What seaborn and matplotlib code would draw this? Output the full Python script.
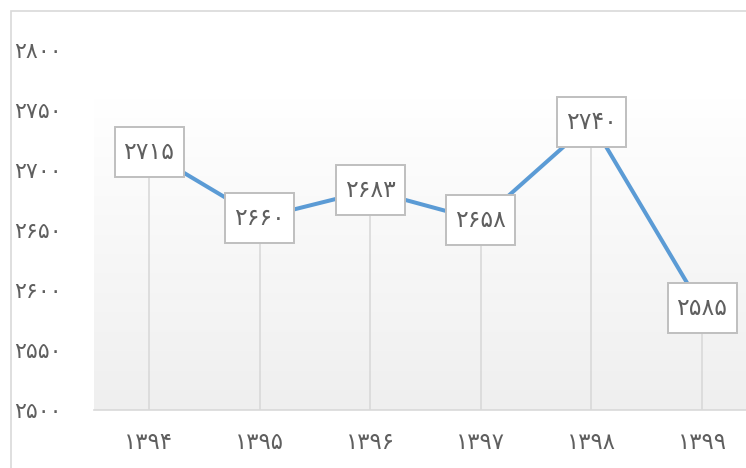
import numpy as np
import pandas as pd
import seaborn as sns
import matplotlib.pyplot as plt
from matplotlib.colors import LinearSegmentedColormap
from matplotlib.patches import Rectangle
from matplotlib.transforms import ScaledTranslation

years = ["۱۳۹۴", "۱۳۹۵", "۱۳۹۶", "۱۳۹۷", "۱۳۹۸", "۱۳۹۹"]
values = [2715, 2660, 2683, 2658, 2740, 2585]
value_labels = ["۲۷۱۵", "۲۶۶۰", "۲۶۸۳", "۲۶۵۸", "۲۷۴۰", "۲۵۸۵"]
y_ticks = [2500, 2550, 2600, 2650, 2700, 2750, 2800]
y_tick_labels = ["۲۵۰۰", "۲۵۵۰", "۲۶۰۰", "۲۶۵۰", "۲۷۰۰", "۲۷۵۰", "۲۸۰۰"]

df = pd.DataFrame({"year": years, "value": values})

sns.set_style("white")
plt.rcParams['font.family'] = ['DejaVu Sans']
text_color = "#5f5f5f"

fig = plt.figure(figsize=(7.46, 4.68), dpi=100)
ax = fig.add_axes([93.7 / 746, 58 / 468, 663.6 / 746, 360 / 468])

# outer chart border (left and top visible)
fig.patches.append(Rectangle((11 / 746, -0.1), 1.2, (457 / 468) + 0.1,
                             transform=fig.transFigure, fill=False,
                             edgecolor="#d9d9d9", linewidth=1.2))

# gradient plot-area fill
grad = np.linspace(0, 1, 256).reshape(-1, 1)
cmap = LinearSegmentedColormap.from_list("g", ["#efefef", "#ffffff"])
ax.imshow(grad, extent=[-0.5, 5.5, 2500, 2760], origin="lower",
          aspect="auto", cmap=cmap, zorder=0)

sns.lineplot(data=df, x="year", y="value", sort=False, ax=ax,
             color="#5b9bd5", linewidth=2.9, zorder=3)

ax.vlines(range(len(values)), 2500, values, color="#d9d9d9",
          linewidth=1.2, zorder=2)

# label boxes: fixed pixel size, centred on each point
for i, (v, lab) in enumerate(zip(values, value_labels)):
    trans = fig.dpi_scale_trans + ScaledTranslation(i, v, ax.transData)
    ax.add_patch(Rectangle((-0.345, -0.25), 0.69, 0.50, transform=trans,
                           facecolor="white", edgecolor="#bfbfbf",
                           linewidth=1.4, zorder=4))
    ax.text(i, v, lab, ha="center", va="center", fontsize=17,
            color=text_color, zorder=5)

ax.set_xlim(-0.5, 5.5)
ax.set_ylim(2500, 2800)
ax.set_yticks(y_ticks)
ax.set_yticklabels(y_tick_labels, fontsize=16, color=text_color)
ax.set_xticks(range(len(years)))
ax.set_xticklabels(years, fontsize=16.5, color=text_color)
for lab in ax.get_yticklabels():
    lab.set_horizontalalignment("left")
ax.tick_params(axis="y", length=0, pad=57)
ax.tick_params(axis="x", length=0, pad=15)
ax.set_xlabel("")
ax.set_ylabel("")
for s in ["top", "right", "left"]:
    ax.spines[s].set_visible(False)
ax.spines["bottom"].set_color("#d9d9d9")
ax.spines["bottom"].set_linewidth(1.2)
ax.patch.set_alpha(0)

fig.savefig("out.png", dpi=100)
